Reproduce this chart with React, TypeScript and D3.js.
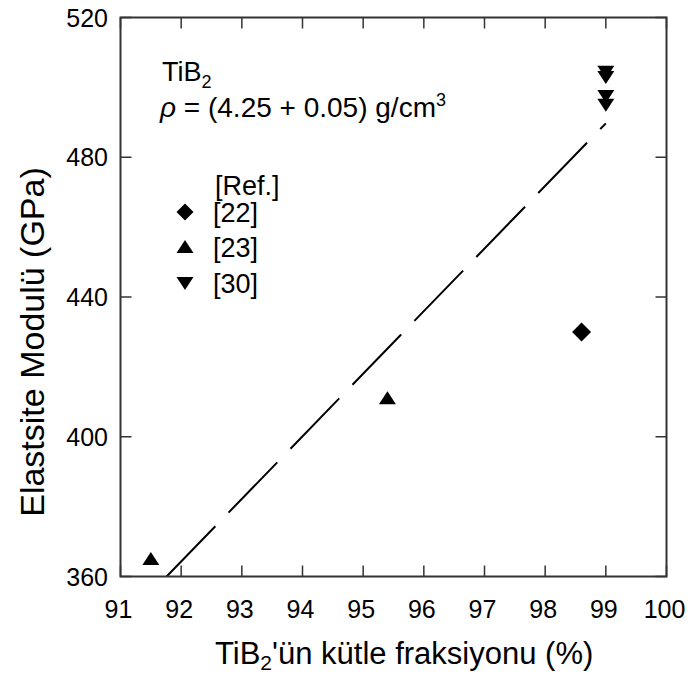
import React from "react";
import * as d3 from "d3";

const xTicks = [91, 92, 93, 94, 95, 96, 97, 98, 99, 100];
const yTicks = [360, 400, 440, 480, 520];

const ref22X = [98.6];
const ref22Y = [430];
const ref23X = [91.5, 95.4];
const ref23Y = [365, 411];
const ref30X = [99, 99, 99, 99];
const ref30Y = [504.5, 503, 497.5, 495];

const fitX = [91.76, 99.0];
const fitY = [360, 489.7];

const legendLabels = ["[22]", "[23]", "[30]"];

const W = 694;
const H = 676;
const L = 120.5, R = 666.5, T = 17.5, B = 576.5;
const FONT = "'Liberation Sans', Arial, Helvetica, sans-serif";

export default function App() {
  const x = d3.scaleLinear().domain([91, 100]).range([L, R]);
  const y = d3.scaleLinear().domain([360, 520]).range([B, T]);

  const diamond = (cx: number, cy: number, s = 9.5) =>
    `M${cx},${cy - s}L${cx + s},${cy}L${cx},${cy + s}L${cx - s},${cy}Z`;
  const triUp = (cx: number, cy: number) =>
    `M${cx},${cy - 7}L${cx + 8.5},${cy + 6}L${cx - 8.5},${cy + 6}Z`;
  const triDown = (cx: number, cy: number) =>
    `M${cx - 8.5},${cy - 6}L${cx + 8.5},${cy - 6}L${cx},${cy + 7}Z`;

  const line = d3
    .line<number>()
    .x((_, i) => x(fitX[i]))
    .y((d) => y(d));

  const tick = 11;

  return (
    <svg
      width={W}
      height={H}
      style={{ position: "absolute", left: 0, top: 0, background: "#fff" }}
      fontFamily={FONT}
    >
      <rect x={0} y={0} width={W} height={H} fill="#fff" />
      <path
        d={line(fitY) || ""}
        fill="none"
        stroke="#000"
        strokeWidth={2}
        strokeDasharray="70 19"
      />
      <rect x={L} y={T} width={R - L} height={B - T} fill="none" stroke="#333" strokeWidth={2} />
      {xTicks.map((t) => (
        <g key={"x" + t}>
          <line x1={x(t)} x2={x(t)} y1={B} y2={B - tick} stroke="#333" strokeWidth={1.5} />
          <line x1={x(t)} x2={x(t)} y1={T} y2={T + tick} stroke="#333" strokeWidth={1.5} />
          <text x={x(t) - 2} y={B + 41} textAnchor="middle" fontSize={25} fill="#000">
            {t}
          </text>
        </g>
      ))}
      {yTicks.map((t) => (
        <g key={"y" + t}>
          <line x1={L} x2={L + tick} y1={y(t)} y2={y(t)} stroke="#333" strokeWidth={1.5} />
          <line x1={R} x2={R - tick} y1={y(t)} y2={y(t)} stroke="#333" strokeWidth={1.5} />
          <text x={108} y={y(t) + 9} textAnchor="end" fontSize={25} fill="#000">
            {t}
          </text>
        </g>
      ))}
      <text
        transform={`translate(44,342) rotate(-90)`}
        textAnchor="middle"
        fontSize={34}
        fill="#000"
      >
        Elastsite Modulü (GPa)
      </text>
      <text x={215} y={664} fontSize={31} fill="#000">
        TiB<tspan fontSize={21} dy={6}>2</tspan>
        <tspan dy={-6}>'ün kütle fraksiyonu (%)</tspan>
      </text>
      <text x={162} y={81} fontSize={27} fill="#000">
        TiB<tspan fontSize={18} dy={7}>2</tspan>
      </text>
      <text x={160} y={117} fontSize={28} fill="#000">
        <tspan fontStyle="italic">ρ</tspan>
        {" = (4.25 + 0.05) g/cm"}
        <tspan fontSize={18} dy={-11}>3</tspan>
      </text>
      <text x={215} y={195} fontSize={27} fill="#000">[Ref.]</text>
      <path d={diamond(185, 212, 8.5)} fill="#000" />
      <text x={213} y={222} fontSize={27} fill="#000">{legendLabels[0]}</text>
      <path d={triUp(185, 247)} fill="#000" />
      <text x={213} y={257} fontSize={27} fill="#000">{legendLabels[1]}</text>
      <path d={triDown(185, 283)} fill="#000" />
      <text x={213} y={293} fontSize={27} fill="#000">{legendLabels[2]}</text>
      {ref22X.map((v, i) => (
        <path key={"a" + i} d={diamond(x(v), y(ref22Y[i]))} fill="#000" />
      ))}
      {ref23X.map((v, i) => (
        <path key={"b" + i} d={triUp(x(v), y(ref23Y[i]))} fill="#000" />
      ))}
      {ref30X.map((v, i) => (
        <path key={"c" + i} d={triDown(x(v), y(ref30Y[i]))} fill="#000" />
      ))}
    </svg>
  );
}
